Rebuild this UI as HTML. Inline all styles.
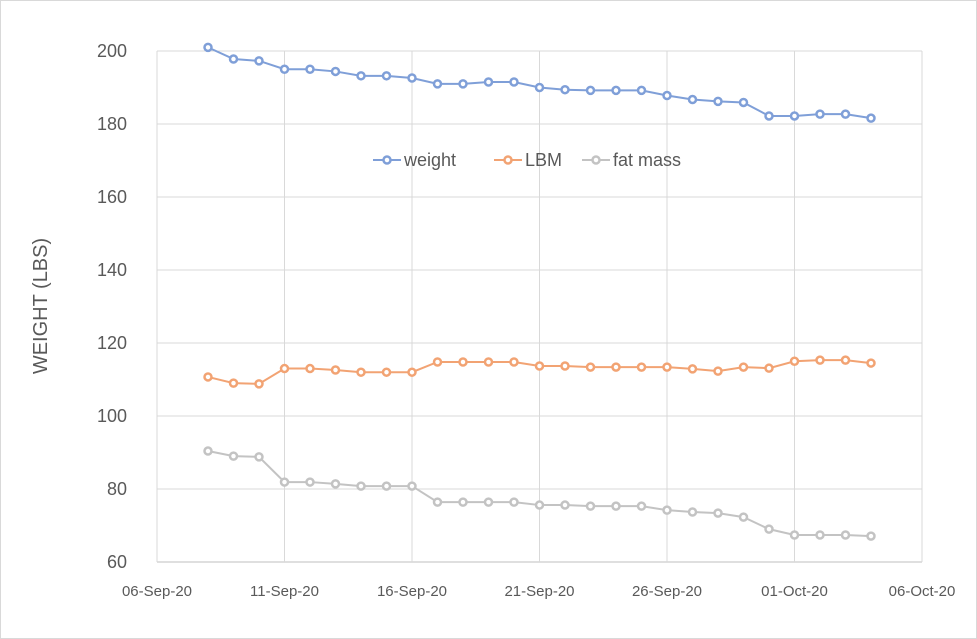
<!DOCTYPE html>
<html><head><meta charset="utf-8"><style>
body{margin:0;background:#fff;}
svg{display:block;font-family:"Liberation Sans",sans-serif;}
</style></head><body>
<svg id="chart" width="977" height="639">
<rect x="0.5" y="0.5" width="976" height="638" fill="#fff" stroke="#d9d9d9"/>
<g id="grid"></g><g id="axes"></g><g id="series"></g>
<text transform="translate(47,306) rotate(-90)" text-anchor="middle" font-size="20" fill="#595959">WEIGHT (LBS)</text>
<g font-size="18" fill="#595959">
<g><line x1="373" y1="160" x2="401" y2="160" stroke="#7f9fd8" stroke-width="2"/><circle cx="387" cy="160" r="3.5" fill="#fff" stroke="#7f9fd8" stroke-width="2.5"/><text x="404" y="166">weight</text></g>
<g><line x1="494" y1="160" x2="522" y2="160" stroke="#f2a373" stroke-width="2"/><circle cx="508" cy="160" r="3.5" fill="#fff" stroke="#f2a373" stroke-width="2.5"/><text x="525" y="166">LBM</text></g>
<g><line x1="582" y1="160" x2="610" y2="160" stroke="#c3c3c3" stroke-width="2"/><circle cx="596" cy="160" r="3.5" fill="#fff" stroke="#c3c3c3" stroke-width="2.5"/><text x="613" y="166">fat mass</text></g>
</g>
</svg>
<script>
const startDay = 2; // days after 06-Sep
const weight = [201,197.8,197.3,195,195,194.4,193.2,193.2,192.6,191,191,191.5,191.5,190,189.4,189.2,189.2,189.2,187.8,186.7,186.2,185.9,182.2,182.2,182.7,182.7,181.6];
const lbm = [110.7,109,108.8,113,113,112.6,112,112,112,114.8,114.8,114.8,114.8,113.7,113.7,113.4,113.4,113.4,113.4,112.9,112.3,113.4,113.1,115,115.3,115.3,114.5];
const fatMass = [90.4,89,88.8,81.9,81.9,81.4,80.8,80.8,80.8,76.4,76.4,76.4,76.4,75.6,75.6,75.3,75.3,75.3,74.2,73.7,73.4,72.3,69,67.4,67.4,67.4,67.1];
const yTicks = [60,80,100,120,140,160,180,200];
const xTickLabels = ["06-Sep-20","11-Sep-20","16-Sep-20","21-Sep-20","26-Sep-20","01-Oct-20","06-Oct-20"];
const ns="http://www.w3.org/2000/svg";
const X0=157,X1=922,Y0=562,Y1=51;
const x=d=>X0+(X1-X0)*d/30;
const y=v=>Y0-(Y0-Y1)*(v-60)/140;
function mk(tag,attrs,parent){const e=document.createElementNS(ns,tag);for(const k in attrs)e.setAttribute(k,attrs[k]);document.getElementById(parent).appendChild(e);return e;}
yTicks.forEach(t=>{
 const l=mk('line',{x1:X0,x2:X1,y1:y(t),y2:y(t),stroke:t===60?'#bfbfbf':'#d9d9d9'},'grid');
 
 
 const tx=mk('text',{x:127,y:y(t)+6,'text-anchor':'end','font-size':18,fill:'#595959'},'axes');
 tx.textContent=t;
 
 
});
xTickLabels.forEach((s,i)=>{
 const l=mk('line',{x1:x(i*5),x2:x(i*5),y1:Y1,y2:Y0,stroke:'#d9d9d9'},'grid');
 
 
 const tx=mk('text',{x:x(i*5),y:596,'text-anchor':'middle','font-size':15,fill:'#595959'},'axes');
 tx.textContent=s;
 
 
});
[[weight,'#7f9fd8','weight'],[lbm,'#f2a373','lbm'],[fatMass,'#c3c3c3','fat-mass']].forEach(([arr,c,n])=>{
 const pts=arr.map((v,i)=>x(startDay+i)+','+y(v)).join(' ');
 const pl=mk('polyline',{points:pts,fill:'none',stroke:c,'stroke-width':2},'series');
 
 
 arr.forEach((v,i)=>{
  const ci=mk('circle',{cx:x(startDay+i),cy:y(v),r:3.5,fill:'#fff',stroke:c,'stroke-width':2.5},'series');
  
  
 });
});
</script>
</body></html>
